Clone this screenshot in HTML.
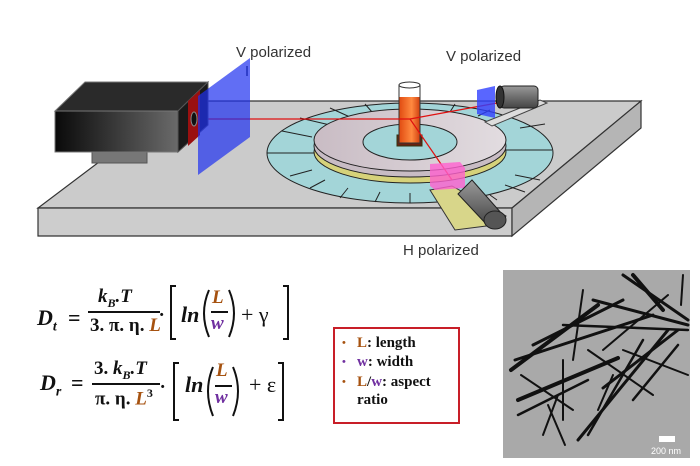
<!DOCTYPE html>
<html><head><meta charset="utf-8"><style>
body{margin:0;width:700px;height:466px;background:#fff;position:relative;overflow:hidden;font-family:"Liberation Serif",serif}
.a{position:absolute;white-space:nowrap}
.m{font-family:"Liberation Serif",serif;font-weight:bold;font-style:italic;color:#111}
.o{color:#a65210}.p{color:#7030a0}
.lbl{font-family:"Liberation Sans",sans-serif;font-size:15px;color:#333}
.box{position:absolute;left:333px;top:327px;width:123px;height:93px;border:2px solid #c81e28;font-weight:bold;font-size:15px;color:#111}
.box div{position:absolute;left:22px;white-space:nowrap;line-height:18px}
.box span.b{position:absolute;left:-15px;font-size:11px}
</style></head><body>
<svg width="700" height="270" style="position:absolute;left:0;top:0">
<defs>
<linearGradient id="cam" x1="0" x2="1"><stop offset="0" stop-color="#0a0a0a"/><stop offset="1" stop-color="#6a6a6a"/></linearGradient>
<linearGradient id="disc" x1="0" x2="1"><stop offset="0" stop-color="#c9bcc4"/><stop offset="1" stop-color="#e2dce0"/></linearGradient>
<linearGradient id="cyl" x1="0" x2="0" y1="0" y2="1"><stop offset="0" stop-color="#999"/><stop offset="1" stop-color="#444"/></linearGradient>
<linearGradient id="tube" x1="0" x2="1"><stop offset="0" stop-color="#e04a10"/><stop offset="0.6" stop-color="#ff8a40"/><stop offset="1" stop-color="#d04010"/></linearGradient>
</defs>
<polygon points="38,208 512,208 641,101 180,101" fill="#cbcbcb" stroke="#333" stroke-width="1.2"/>
<polygon points="38,208 512,208 512,236 38,236" fill="#cdcdcd" stroke="#333" stroke-width="1.2"/>
<polygon points="512,208 641,101 641,128 512,236" fill="#b5b5b5" stroke="#333" stroke-width="1.2"/>
<ellipse cx="410" cy="153" rx="143" ry="50" fill="#a3d5d8" stroke="#222"/>
<g stroke="#222" stroke-width="1">
<line x1="267" y1="153" x2="314" y2="153"/><line x1="505" y1="150" x2="552" y2="150"/>
<line x1="282" y1="131" x2="312" y2="137"/><line x1="290" y1="176" x2="312" y2="170"/>
<line x1="310" y1="188" x2="325" y2="180"/><line x1="340" y1="198" x2="348" y2="188"/>
<line x1="375" y1="202" x2="380" y2="192"/><line x1="410" y1="203" x2="410" y2="193"/>
<line x1="520" y1="128" x2="545" y2="124"/><line x1="515" y1="175" x2="540" y2="180"/>
<line x1="505" y1="185" x2="525" y2="192"/><line x1="490" y1="195" x2="497" y2="200"/>
<line x1="300" y1="118" x2="330" y2="125"/><line x1="330" y1="108" x2="350" y2="117"/>
<line x1="365" y1="104" x2="372" y2="112"/><line x1="410" y1="103" x2="410" y2="111"/>
<line x1="455" y1="104" x2="450" y2="112"/><line x1="490" y1="110" x2="478" y2="116"/>
</g>
<ellipse cx="410" cy="152" rx="96" ry="31" fill="#d6d27a" stroke="#222"/>
<ellipse cx="410" cy="146" rx="96" ry="31" fill="#c8bcc4" stroke="#222"/>
<ellipse cx="410" cy="140" rx="96" ry="31" fill="url(#disc)" stroke="#222"/>
<ellipse cx="410" cy="142" rx="47" ry="18" fill="#a3d5d8" stroke="#222"/>
<rect x="397" y="135" width="25" height="11" fill="#6a2010" stroke="#331"/>
<rect x="399" y="97" width="21" height="46" fill="url(#tube)"/>
<rect x="399" y="85" width="21" height="58" fill="none" stroke="#333"/>
<ellipse cx="409.5" cy="85" rx="10.5" ry="3" fill="#fff" stroke="#333"/>
<polyline points="195,119 410,119 497,103" fill="none" stroke="#e01010" stroke-width="1.2"/>
<line x1="410" y1="119" x2="452" y2="180" stroke="#e01010" stroke-width="1.2"/>
<polygon points="485,122 540,100 547,103 492,126" fill="#ddd" stroke="#444"/>
<polygon points="477,90 495,86 495,118 477,114" fill="#3040ff" opacity="0.8"/>
<rect x="500" y="86" width="38" height="22" rx="4" fill="url(#cyl)" stroke="#222"/>
<ellipse cx="500" cy="97" rx="4" ry="11" fill="#333" stroke="#111"/>
<polygon points="430,190 452,186 506,216 502,224 455,230" fill="#d8d68a" stroke="#333"/>
<polygon points="430,164 460,162 465,168 465,188 435,190 430,186" fill="#ff60d0" opacity="0.8"/>
<polygon points="458,194 472,180 502,214 488,226" fill="url(#cyl)" stroke="#222"/>
<ellipse cx="495" cy="220" rx="11" ry="9" fill="#555" stroke="#222"/>
<rect x="92" y="150" width="55" height="13" fill="#777" stroke="#555"/>
<polygon points="55,111 85,82 208,82 178,111" fill="#2a2a2a" stroke="#777"/>
<rect x="55" y="111" width="123" height="41" fill="url(#cam)" stroke="#777"/>
<polygon points="178,111 208,82 208,125 178,152" fill="#1a1a1a" stroke="#555"/>
<polygon points="188,101 200,90 200,135 188,146" fill="#9a1010"/>
<ellipse cx="194" cy="119" rx="3" ry="7" fill="#111" stroke="#888"/>
<polygon points="198,96 250,58 250,137 198,175" fill="#1e30f0" opacity="0.7"/>
<line x1="247" y1="76" x2="247" y2="66" stroke="#0010a0"/>
</svg>
<div class="a lbl" style="left:236px;top:44px">V polarized</div>
<div class="a lbl" style="left:446px;top:48px">V polarized</div>
<div class="a lbl" style="left:403px;top:242px">H polarized</div>

<!-- brackets and parens -->
<svg width="300" height="150" style="position:absolute;left:0;top:280px" fill="none" stroke="#111" stroke-width="2">
<polyline points="176,6 171,6 171,59 176,59"/>
<polyline points="283,6 288,6 288,59 283,59"/>
<path d="M209,10 Q199,33 209,57"/>
<path d="M229,10 Q239,33 229,57"/>
<polyline points="179,83 174,83 174,140 179,140"/>
<polyline points="278,83 283,83 283,140 278,140"/>
<path d="M213,87 Q203,111 213,136"/>
<path d="M233,87 Q243,111 233,136"/>
</svg>

<div class="a m" style="left:37px;top:305px;font-size:22px">D<sub style="font-size:14px">t</sub></div>
<div class="a m" style="left:68px;top:305px;font-size:22px;font-style:normal">=</div>
<div class="a m" style="left:98px;top:286px;font-size:19px">k<sub style="font-size:12px">B</sub>.T</div>
<div class="a" style="left:88px;top:311px;width:72px;height:2px;background:#111"></div>
<div class="a m" style="left:90px;top:315px;font-size:19px;font-style:normal">3. π. η. <i class="o">L</i></div>
<div class="a m" style="left:160px;top:300px;font-size:19px">.</div>
<div class="a m" style="left:181px;top:302px;font-size:22px">ln</div>
<div class="a m o" style="left:212px;top:287px;font-size:19px">L</div>
<div class="a" style="left:211px;top:311px;width:17px;height:2px;background:#111"></div>
<div class="a m p" style="left:211px;top:313px;font-size:19px">w</div>
<div class="a" style="left:241px;top:302px;font-size:22px;color:#111">+ γ</div>

<div class="a m" style="left:40px;top:370px;font-size:22px">D<sub style="font-size:14px">r</sub></div>
<div class="a m" style="left:71px;top:370px;font-size:22px;font-style:normal">=</div>
<div class="a m" style="left:94px;top:358px;font-size:19px"><span style="font-style:normal">3.</span> k<sub style="font-size:12px">B</sub>.T</div>
<div class="a" style="left:92px;top:383px;width:68px;height:2px;background:#111"></div>
<div class="a m" style="left:95px;top:386px;font-size:19px;font-style:normal">π. η. <i class="o">L</i><sup style="font-size:12px">3</sup></div>
<div class="a m" style="left:161px;top:372px;font-size:19px">.</div>
<div class="a m" style="left:185px;top:372px;font-size:22px">ln</div>
<div class="a m o" style="left:216px;top:360px;font-size:19px">L</div>
<div class="a" style="left:215px;top:385px;width:17px;height:2px;background:#111"></div>
<div class="a m p" style="left:215px;top:387px;font-size:19px">w</div>
<div class="a" style="left:249px;top:372px;font-size:22px;color:#111">+ ε</div>

<div class="box">
<div style="top:5px"><span class="b o">•</span><span class="o">L</span>: length</div>
<div style="top:24px"><span class="b p">•</span><span class="p">w</span>: width</div>
<div style="top:44px"><span class="b o">•</span><span class="o">L</span>/<span class="p">w</span>: aspect<br>ratio</div>
</div>

<svg width="187" height="188" style="position:absolute;left:503px;top:270px">
<rect width="187" height="188" fill="#a9a9a9"/>
<g stroke="#111" stroke-linecap="round">
<line x1="8" y1="100" x2="95" y2="35" stroke-width="4"/>
<line x1="12" y1="90" x2="150" y2="45" stroke-width="3"/>
<line x1="30" y1="75" x2="120" y2="30" stroke-width="3"/>
<line x1="60" y1="55" x2="185" y2="60" stroke-width="2.5"/>
<line x1="90" y1="30" x2="185" y2="55" stroke-width="3"/>
<line x1="120" y1="5" x2="185" y2="50" stroke-width="3"/>
<line x1="130" y1="5" x2="160" y2="40" stroke-width="4"/>
<line x1="80" y1="20" x2="70" y2="90" stroke-width="2"/>
<line x1="15" y1="130" x2="115" y2="88" stroke-width="4"/>
<line x1="15" y1="145" x2="85" y2="110" stroke-width="2.5"/>
<line x1="18" y1="105" x2="70" y2="140" stroke-width="2"/>
<line x1="60" y1="90" x2="60" y2="150" stroke-width="2"/>
<line x1="45" y1="135" x2="62" y2="175" stroke-width="2"/>
<line x1="40" y1="165" x2="55" y2="125" stroke-width="2"/>
<line x1="85" y1="80" x2="150" y2="125" stroke-width="2"/>
<line x1="100" y1="118" x2="175" y2="60" stroke-width="3"/>
<line x1="75" y1="170" x2="165" y2="60" stroke-width="3"/>
<line x1="85" y1="165" x2="140" y2="70" stroke-width="2.5"/>
<line x1="120" y1="80" x2="185" y2="105" stroke-width="2"/>
<line x1="130" y1="130" x2="175" y2="75" stroke-width="2.5"/>
<line x1="100" y1="80" x2="165" y2="25" stroke-width="2"/>
<line x1="180" y1="5" x2="178" y2="35" stroke-width="2"/>
<line x1="95" y1="140" x2="110" y2="105" stroke-width="2"/>
</g>
<rect x="156" y="166" width="16" height="6" fill="#fff"/>
<text x="148" y="184" font-family="Liberation Sans" font-size="9" fill="#fff">200 nm</text>
</svg>
</body></html>
